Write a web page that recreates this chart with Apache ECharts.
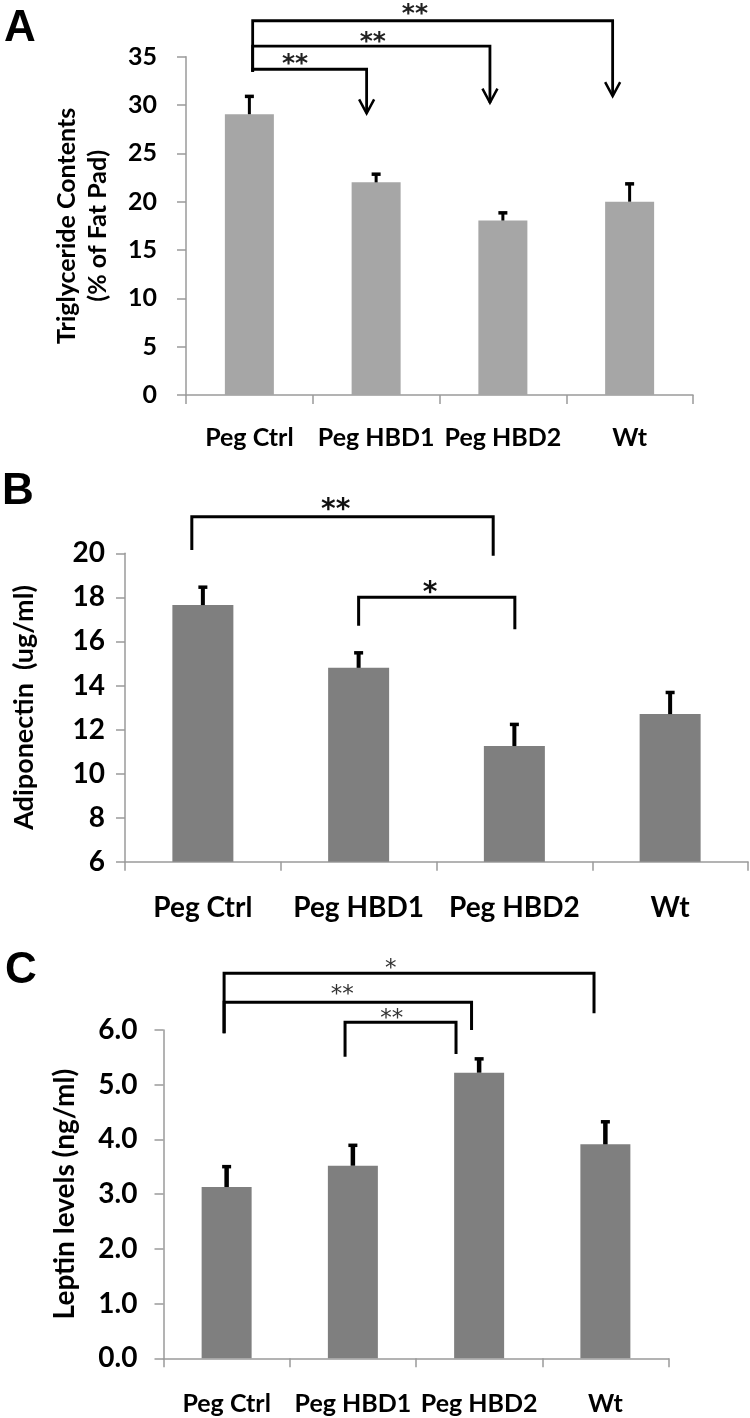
<!DOCTYPE html>
<html>
<head>
<meta charset="utf-8">
<script src="https://cdn.jsdelivr.net/npm/echarts@6/dist/echarts.min.js"></script>
<style>html,body{margin:0;padding:0;background:#fff}#c{width:750px;height:1418px}</style>
</head>
<body>
<div id="c"></div>
<script>
// ---- data ----
const categories = ['Peg Ctrl', 'Peg HBD1', 'Peg HBD2', 'Wt'];

const triglyceride = [29.05, 22.0, 18.05, 20.0];
const triglycerideErr = [2.0, 1.0, 0.95, 2.0];

const adiponectin = [17.65, 14.8, 11.25, 12.7];
const adiponectinErr = [0.88, 0.75, 1.05, 1.05];

const leptin = [3.13, 3.52, 5.22, 3.91];
const leptinErr = [0.4, 0.4, 0.28, 0.44];

const ticksA = {min: 0, max: 35, step: 5};
const ticksB = {min: 6, max: 20, step: 2};
const ticksC = {min: 0, max: 6, step: 1};

// significance annotations (category index positions, value-axis levels)
const sigA = [
  {from: 0.026, to: 0.925, level: 33.7, fromEnd: 33.45, toEnd: 29.14, text: '**', at: 0.36, textLevel: 34.66, arrow: true},
  {from: 0.026, to: 1.898, level: 36.1, fromEnd: 33.45, toEnd: 30.24, text: '**', at: 0.973, textLevel: 37.0, arrow: true},
  {from: 0.026, to: 2.866, level: 38.72, fromEnd: 33.45, toEnd: 30.93, text: '**', at: 1.306, textLevel: 39.9, arrow: true}
];
const sigB = [
  {from: -0.071, to: 1.864, level: 21.66, fromEnd: 20.15, toEnd: 19.89, text: '**', at: 0.853, textLevel: 22.19, arrow: false},
  {from: 1.0, to: 2.003, level: 18.0, fromEnd: 16.71, toEnd: 16.55, text: '*', at: 1.458, textLevel: 18.44, arrow: false}
];
const sigC = [
  {from: -0.02, to: 2.91, level: 7.036, fromEnd: 5.94, toEnd: 6.305, text: '*', at: 1.30, textLevel: 7.206, arrow: false},
  {from: -0.02, to: 1.94, level: 6.506, fromEnd: 5.94, toEnd: 6.0, text: '**', at: 0.916, textLevel: 6.731, arrow: false},
  {from: 0.938, to: 1.817, level: 6.14, fromEnd: 5.51, toEnd: 5.56, text: '**', at: 1.307, textLevel: 6.287, arrow: false}
];

// ---- rendering helpers ----
const FONT = 'Lato';
const STAR_FONT = 'DejaVu Sans';
const AXIS_COLOR = '#9a9a9a';

function errRender(vals, errs, lw) {
  return function (params, api) {
    const i = params.dataIndex;
    const p0 = api.coord([i, vals[i]]);
    const p1 = api.coord([i, vals[i] + errs[i]]);
    return {
      type: 'group',
      children: [
        {type: 'line', shape: {x1: p0[0], y1: p0[1], x2: p1[0], y2: p1[1] + 1}, style: {stroke: '#000', lineWidth: lw}},
        {type: 'line', shape: {x1: p1[0] - 4.5, y1: p1[1] + 1.5, x2: p1[0] + 4.5, y2: p1[1] + 1.5}, style: {stroke: '#000', lineWidth: 3.5}}
      ]
    };
  };
}

function sigRender(list, fontSize, fontWeight, color, lw) {
  return function (params, api) {
    const b = list[params.dataIndex];
    const c0 = api.coord([0, b.level]);
    const c1 = api.coord([1, b.level]);
    const w = c1[0] - c0[0];
    const xa = c0[0] + b.from * w;
    const xb = c0[0] + b.to * w;
    const yl = c0[1];
    const ya = api.coord([0, b.fromEnd])[1];
    const yb = api.coord([0, b.toEnd])[1];
    const children = [
      {type: 'polyline', shape: {points: [[xa, ya], [xa, yl], [xb, yl], [xb, yb]]}, style: {stroke: '#000', lineWidth: lw, fill: null}}
    ];
    if (b.arrow) {
      children.push({type: 'polyline', shape: {points: [[xb - 7.5, yb - 14], [xb, yb], [xb + 7.5, yb - 14]]}, style: {stroke: '#000', lineWidth: 2.5, fill: null}});
    }
    const ty = api.coord([0, b.textLevel])[1];
    children.push({
      type: 'text',
      style: {
        text: b.text, x: c0[0] + b.at * w, y: ty + 0.2 * fontSize,
        textAlign: 'center', textVerticalAlign: 'middle',
        font: fontWeight + ' ' + fontSize + 'px "' + STAR_FONT + '"', fill: color
      }
    });
    return {type: 'group', children: children};
  };
}

function xAxisCfg(gridIndex, fontSize, margin) {
  return {
    type: 'category', gridIndex: gridIndex, data: categories,
    axisLine: {show: true, lineStyle: {color: AXIS_COLOR, width: 1.5}},
    axisTick: {show: true, alignWithLabel: false, length: 9, lineStyle: {color: AXIS_COLOR, width: 1.5}},
    axisLabel: {color: '#000', fontFamily: FONT, fontWeight: 'bold', fontSize: fontSize, margin: margin, interval: 0},
    splitLine: {show: false}
  };
}

function yAxisCfg(gridIndex, t, fontSize, margin, name, nameSize, nameLH, nameGap, fmt) {
  return {
    type: 'value', gridIndex: gridIndex, min: t.min, max: t.max, interval: t.step,
    axisLine: {show: true, lineStyle: {color: AXIS_COLOR, width: 1.5}},
    axisTick: {show: true, length: 9, lineStyle: {color: AXIS_COLOR, width: 1.5}},
    axisLabel: {color: '#000', fontFamily: FONT, fontWeight: 'bold', fontSize: fontSize, margin: margin, formatter: fmt},
    splitLine: {show: false},
    name: name, nameLocation: 'middle', nameGap: nameGap,
    nameTextStyle: {color: '#000', fontFamily: FONT, fontWeight: 'bold', fontSize: nameSize, lineHeight: nameLH, align: 'center'}
  };
}

const chart = echarts.init(document.getElementById('c'), null, {renderer: 'canvas'});

const letterStyle = {fontFamily: 'Liberation Sans', fontWeight: 'bold', fontSize: 44, color: '#000'};

chart.setOption({
  backgroundColor: '#fff',
  animation: false,
  title: [
    {text: 'A', left: -1, top: 2, padding: [5, 5], textStyle: letterStyle},
    {text: 'B', left: -3, top: 465, padding: [5, 5], textStyle: letterStyle},
    {text: 'C', left: 0, top: 944, padding: [5, 5], textStyle: letterStyle}
  ],
  grid: [
    {left: 186, top: 56.7, width: 507, height: 338.3},
    {left: 123, top: 553.3, width: 625, height: 308.4},
    {left: 163.5, top: 1030, width: 505, height: 328.3}
  ],
  xAxis: [
    xAxisCfg(0, 25, 30),
    xAxisCfg(1, 28, 32),
    xAxisCfg(2, 25, 33)
  ],
  yAxis: [
    yAxisCfg(0, ticksA, 25, 29, 'Triglyceride Contents\n(% of Fat Pad)', 25, 31, 73, null),
    yAxisCfg(1, ticksB, 28, 20, 'Adiponectin  (ug/ml)', 27, 32, 85, null),
    yAxisCfg(2, ticksC, 28, 26, 'Leptin levels (ng/ml)', 28, 32, 83, function (v) { return v.toFixed(1); })
  ],
  series: [
    {type: 'bar', xAxisIndex: 0, yAxisIndex: 0, data: triglyceride, barWidth: 49, itemStyle: {color: '#a6a6a6'}},
    {type: 'bar', xAxisIndex: 1, yAxisIndex: 1, data: adiponectin, barWidth: 61, itemStyle: {color: '#7f7f7f'}},
    {type: 'bar', xAxisIndex: 2, yAxisIndex: 2, data: leptin, barWidth: 50, itemStyle: {color: '#7f7f7f'}},
    {type: 'custom', xAxisIndex: 0, yAxisIndex: 0, clip: false, z: 5,
      data: categories.map((c, i) => [i, triglyceride[i] + triglycerideErr[i]]),
      renderItem: errRender(triglyceride, triglycerideErr, 3)},
    {type: 'custom', xAxisIndex: 1, yAxisIndex: 1, clip: false, z: 5,
      data: categories.map((c, i) => [i, adiponectin[i] + adiponectinErr[i]]),
      renderItem: errRender(adiponectin, adiponectinErr, 4)},
    {type: 'custom', xAxisIndex: 2, yAxisIndex: 2, clip: false, z: 5,
      data: categories.map((c, i) => [i, leptin[i] + leptinErr[i]]),
      renderItem: errRender(leptin, leptinErr, 4.5)},
    {type: 'custom', xAxisIndex: 0, yAxisIndex: 0, clip: false, z: 6,
      data: sigA.map(b => [0, b.level]), renderItem: sigRender(sigA, 25, 'bold', '#222', 2.8)},
    {type: 'custom', xAxisIndex: 1, yAxisIndex: 1, clip: false, z: 6,
      data: sigB.map(b => [0, b.level]), renderItem: sigRender(sigB, 28, 'bold', '#111', 3)},
    {type: 'custom', xAxisIndex: 2, yAxisIndex: 2, clip: false, z: 6,
      data: sigC.map(b => [0, b.level]), renderItem: sigRender(sigC, 23, 'normal', '#333', 3)}
  ]
});
</script>
</body>
</html>
